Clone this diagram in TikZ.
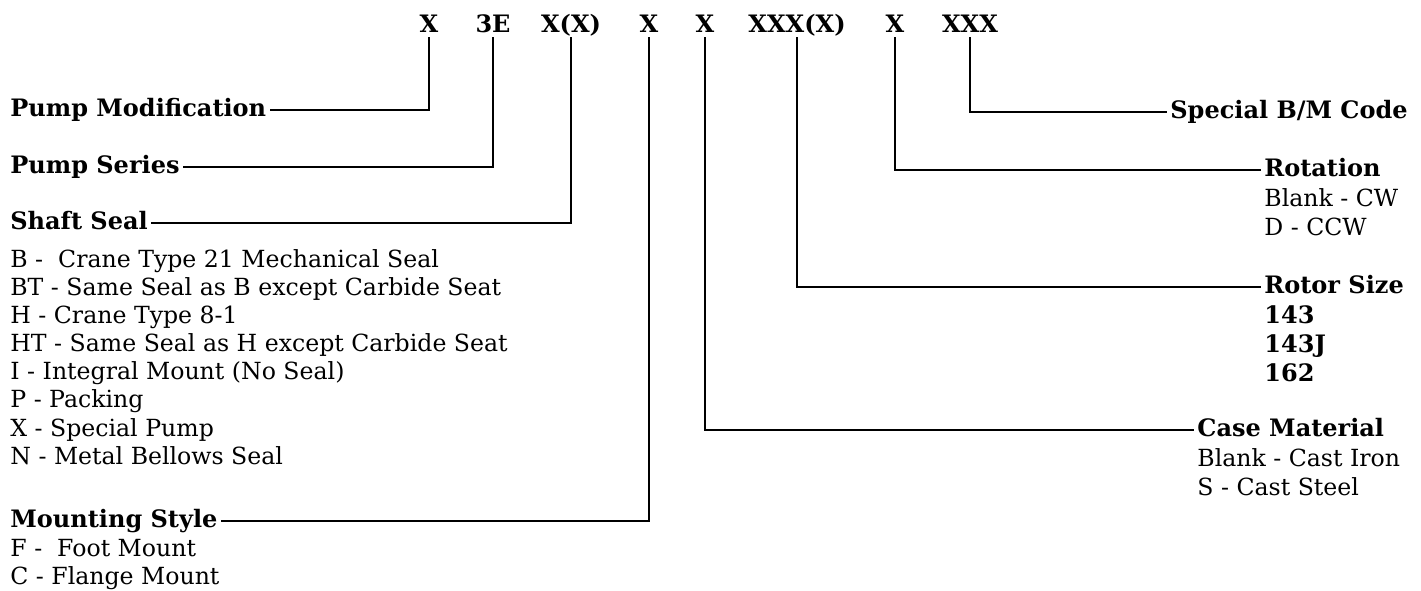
\documentclass[tikz,border=0pt]{standalone}
\usepackage{fontspec}
\setmainfont{DejaVu Serif}
\begin{document}
\begin{tikzpicture}[x=0.5pt,y=-0.5pt,
  lbl/.style={inner xsep=2pt,inner ysep=0pt,text height=9pt,text depth=3pt,
    font=\fontsize{11.8}{14}\selectfont},
  hd/.style={lbl,font=\fontsize{12}{14}\selectfont\bfseries},
  code/.style={hd,anchor=center},
  itemL/.style={lbl,anchor=west},
  ln/.style={line width=1pt,line cap=rect}]
\useasboundingbox[fill=white] (0,0) rectangle (1421,590);
% code row
\node[code] (c1) at (429,26) {X};
\node[code] (c2) at (493,26) {3E};
\node[code] (c3) at (571,26) {X(X)};
\node[code] (c4) at (649,26) {X};
\node[code] (c5) at (705,26) {X};
\node[code] (c6) at (797,26) {XXX(X)};
\node[code] (c7) at (895,26) {X};
\node[code] (c8) at (970,26) {XXX};
% left headings
\node[hd,anchor=west] (pm) at (6,110) {Pump Modification};
\node[hd,anchor=west] (ps) at (6,167) {Pump Series};
\node[hd,anchor=west] (ss) at (6,223) {Shaft Seal};
\node[hd,anchor=west] (ms) at (6,521) {Mounting Style};
% shaft seal list
\node[itemL] (s1) at (6,261) {B -\ \ Crane Type 21 Mechanical Seal};
\node[itemL] (s2) at (6,289) {BT - Same Seal as B except Carbide Seat};
\node[itemL] (s3) at (6,317) {H - Crane Type 8-1};
\node[itemL] (s4) at (6,345) {HT - Same Seal as H except Carbide Seat};
\node[itemL] (s5) at (6,373) {I - Integral Mount (No Seal)};
\node[itemL] (s6) at (6,401) {P - Packing};
\node[itemL] (s7) at (6,430) {X - Special Pump};
\node[itemL] (s8) at (6,458) {N - Metal Bellows Seal};
% mounting list
\node[itemL] (m1) at (6,550) {F -\ \ Foot Mount};
\node[itemL] (m2) at (6,578) {C - Flange Mount};
% right headings
\node[hd,anchor=west] (sb) at (1166,112) {Special B/M Code};
\node[hd,anchor=west] (ro) at (1260,170) {Rotation};
\node[itemL] (r1) at (1260,200) {Blank - CW};
\node[itemL] (r2) at (1260,229) {D - CCW};
\node[hd,anchor=west] (rs) at (1260,287) {Rotor Size};
\node[hd,anchor=west] (z1) at (1260,317) {143};
\node[hd,anchor=west] (z2) at (1260,346) {143J};
\node[hd,anchor=west] (z3) at (1260,375) {162};
\node[hd,anchor=west] (cm) at (1193,430) {Case Material};
\node[itemL] (k1) at (1193,460) {Blank - Cast Iron};
\node[itemL] (k2) at (1193,489) {S - Cast Steel};
% connectors
\draw[ln] (pm.east) -| (c1.south);
\draw[ln] (ps.east) -| (c2.south);
\draw[ln] (ss.east) -| (c3.south);
\draw[ln] (ms.east) -| (c4.south);
\draw[ln] (c5.south) |- (cm.west);
\draw[ln] (c6.south) |- (rs.west);
\draw[ln] (c7.south) |- (ro.west);
\draw[ln] (c8.south) |- (sb.west);
\end{tikzpicture}
\end{document}
